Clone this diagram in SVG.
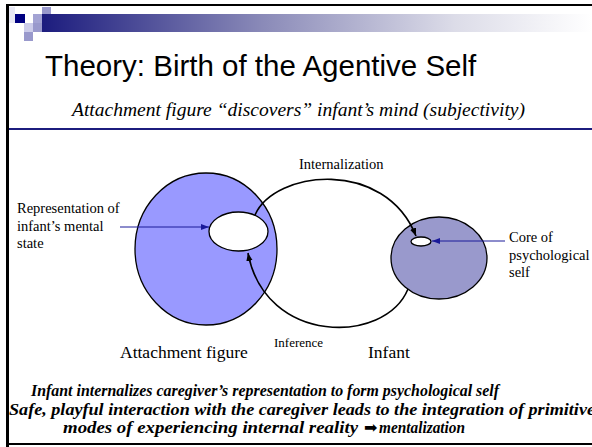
<svg xmlns="http://www.w3.org/2000/svg" width="592" height="447" viewBox="0 0 592 447">
  <defs>
    <linearGradient id="barGrad" x1="0" y1="0" x2="1" y2="0">
      <stop offset="0" stop-color="#1c1c7e"/>
      <stop offset="0.4" stop-color="#8a8ab8"/>
      <stop offset="0.75" stop-color="#dcdce8"/>
      <stop offset="1" stop-color="#ffffff"/>
    </linearGradient>
    <marker id="arrowBlack" markerUnits="userSpaceOnUse" markerWidth="10" markerHeight="8" refX="8" refY="4" orient="auto">
      <path d="M0,0.8 L8,4 L0,7.2 Z" fill="#000"/>
    </marker>
    <marker id="arrowNavy" markerUnits="userSpaceOnUse" markerWidth="10" markerHeight="8" refX="8" refY="4" orient="auto">
      <path d="M0,1 L8,4 L0,7 Z" fill="#1a1a99"/>
    </marker>
  </defs>
  <style>
    .serif { font-family: "Liberation Serif", "Times New Roman", serif; fill: #000; }
    .label { font-size: 14.5px; }
    .caption { font-size: 17.5px; }
    .note { font-size: 16.5px; font-weight: bold; font-style: italic; }
    .outline { stroke: #000; stroke-width: 1.3; }
    .flow { fill: none; stroke: #000; stroke-width: 1.6; }
    .pointer { fill: none; stroke: #1a1a99; stroke-width: 1; }
  </style>

  <!-- slide background and frame -->
  <rect x="0" y="0" width="592" height="447" fill="#fff"/>
  <rect x="6" y="4" width="586" height="2" fill="#000"/>
  <rect x="6" y="4" width="3" height="443" fill="#000"/>
  <rect x="6" y="443" width="586" height="2" fill="#000"/>

  <!-- header decoration: square mosaic and fading bar -->
  <g id="header-decor">
    <rect x="42" y="14" width="550" height="18" fill="url(#barGrad)"/>
    <rect x="9" y="7" width="6" height="16" fill="#e8e8f4"/>
    <rect x="15" y="14" width="10" height="9" fill="#000080"/>
    <rect x="33" y="14" width="9" height="9" fill="#a3a3d3"/>
    <rect x="42" y="7" width="9" height="7" fill="#9999cc"/>
    <rect x="24" y="23" width="9" height="9" fill="#ccccea"/>
    <rect x="33" y="23" width="9" height="9" fill="#9999cc"/>
    <rect x="24" y="32" width="9" height="9" fill="#9999cc"/>
  </g>

  <!-- title block -->
  <text x="45" y="76" font-family="'Liberation Sans', Arial, sans-serif" font-size="29.5" fill="#000">Theory: Birth of the Agentive Self</text>
  <text class="serif" x="72" y="116" font-size="19" font-style="italic" textLength="453" lengthAdjust="spacingAndGlyphs">Attachment figure “discovers” infant’s mind (subjectivity)</text>
  <rect x="9" y="128" width="583" height="2" fill="#1c1c7e"/>

  <!-- caregiver -->
  <g id="attachment-figure">
    <ellipse cx="206" cy="249" rx="71" ry="76" fill="#9999ff" class="outline"/>
    <text class="serif caption" x="120" y="358">Attachment figure</text>
  </g>
  <g id="mental-state-representation">
    <ellipse cx="238.5" cy="231.5" rx="29.5" ry="19.5" fill="#fff" class="outline"/>
    <text class="serif label" x="17" y="213">Representation of</text>
    <text class="serif label" x="17" y="231">infant’s mental</text>
    <text class="serif label" x="17" y="248">state</text>
  </g>

  <!-- infant -->
  <g id="infant">
    <ellipse cx="439" cy="258" rx="48" ry="41" fill="#9999cc" class="outline"/>
    <text class="serif caption" x="368" y="358">Infant</text>
  </g>
  <g id="psychological-self-core">
    <ellipse cx="421" cy="241.5" rx="10" ry="4.5" fill="#fff" class="outline"/>
    <text class="serif label" x="509" y="242">Core of</text>
    <text class="serif label" x="509" y="260">psychological</text>
    <text class="serif label" x="509" y="277">self</text>
  </g>

  <!-- connectors -->
  <g id="connectors">
    <path id="internalization" class="flow" d="M255,215 C275,170 385,158 416,236" marker-end="url(#arrowBlack)"/>
    <text class="serif label" x="299" y="169">Internalization</text>
    <path id="inference" class="flow" d="M408,289 C385,345 265,345 248,253" marker-end="url(#arrowBlack)"/>
    <text class="serif" x="274" y="347" font-size="13">Inference</text>
    <path class="pointer" d="M120,227 H209" marker-end="url(#arrowNavy)"/>
    <path class="pointer" d="M505,241 H432" marker-end="url(#arrowNavy)"/>
  </g>

  <!-- summary notes -->
  <g id="summary">
    <text class="serif note" x="31" y="396" textLength="468" lengthAdjust="spacingAndGlyphs">Infant internalizes caregiver’s representation to form psychological self</text>
    <text class="serif note" x="9" y="415" textLength="586" lengthAdjust="spacingAndGlyphs">Safe, playful interaction with the caregiver leads to the integration of primitive</text>
    <text class="serif note" x="63" y="433" textLength="295" lengthAdjust="spacingAndGlyphs">modes of experiencing internal reality</text>
    <text x="364" y="433" font-family="'DejaVu Sans', sans-serif" font-size="16" fill="#000">➡</text>
    <text class="serif note" x="379" y="433" textLength="86" lengthAdjust="spacingAndGlyphs">mentalization</text>
  </g>
</svg>
